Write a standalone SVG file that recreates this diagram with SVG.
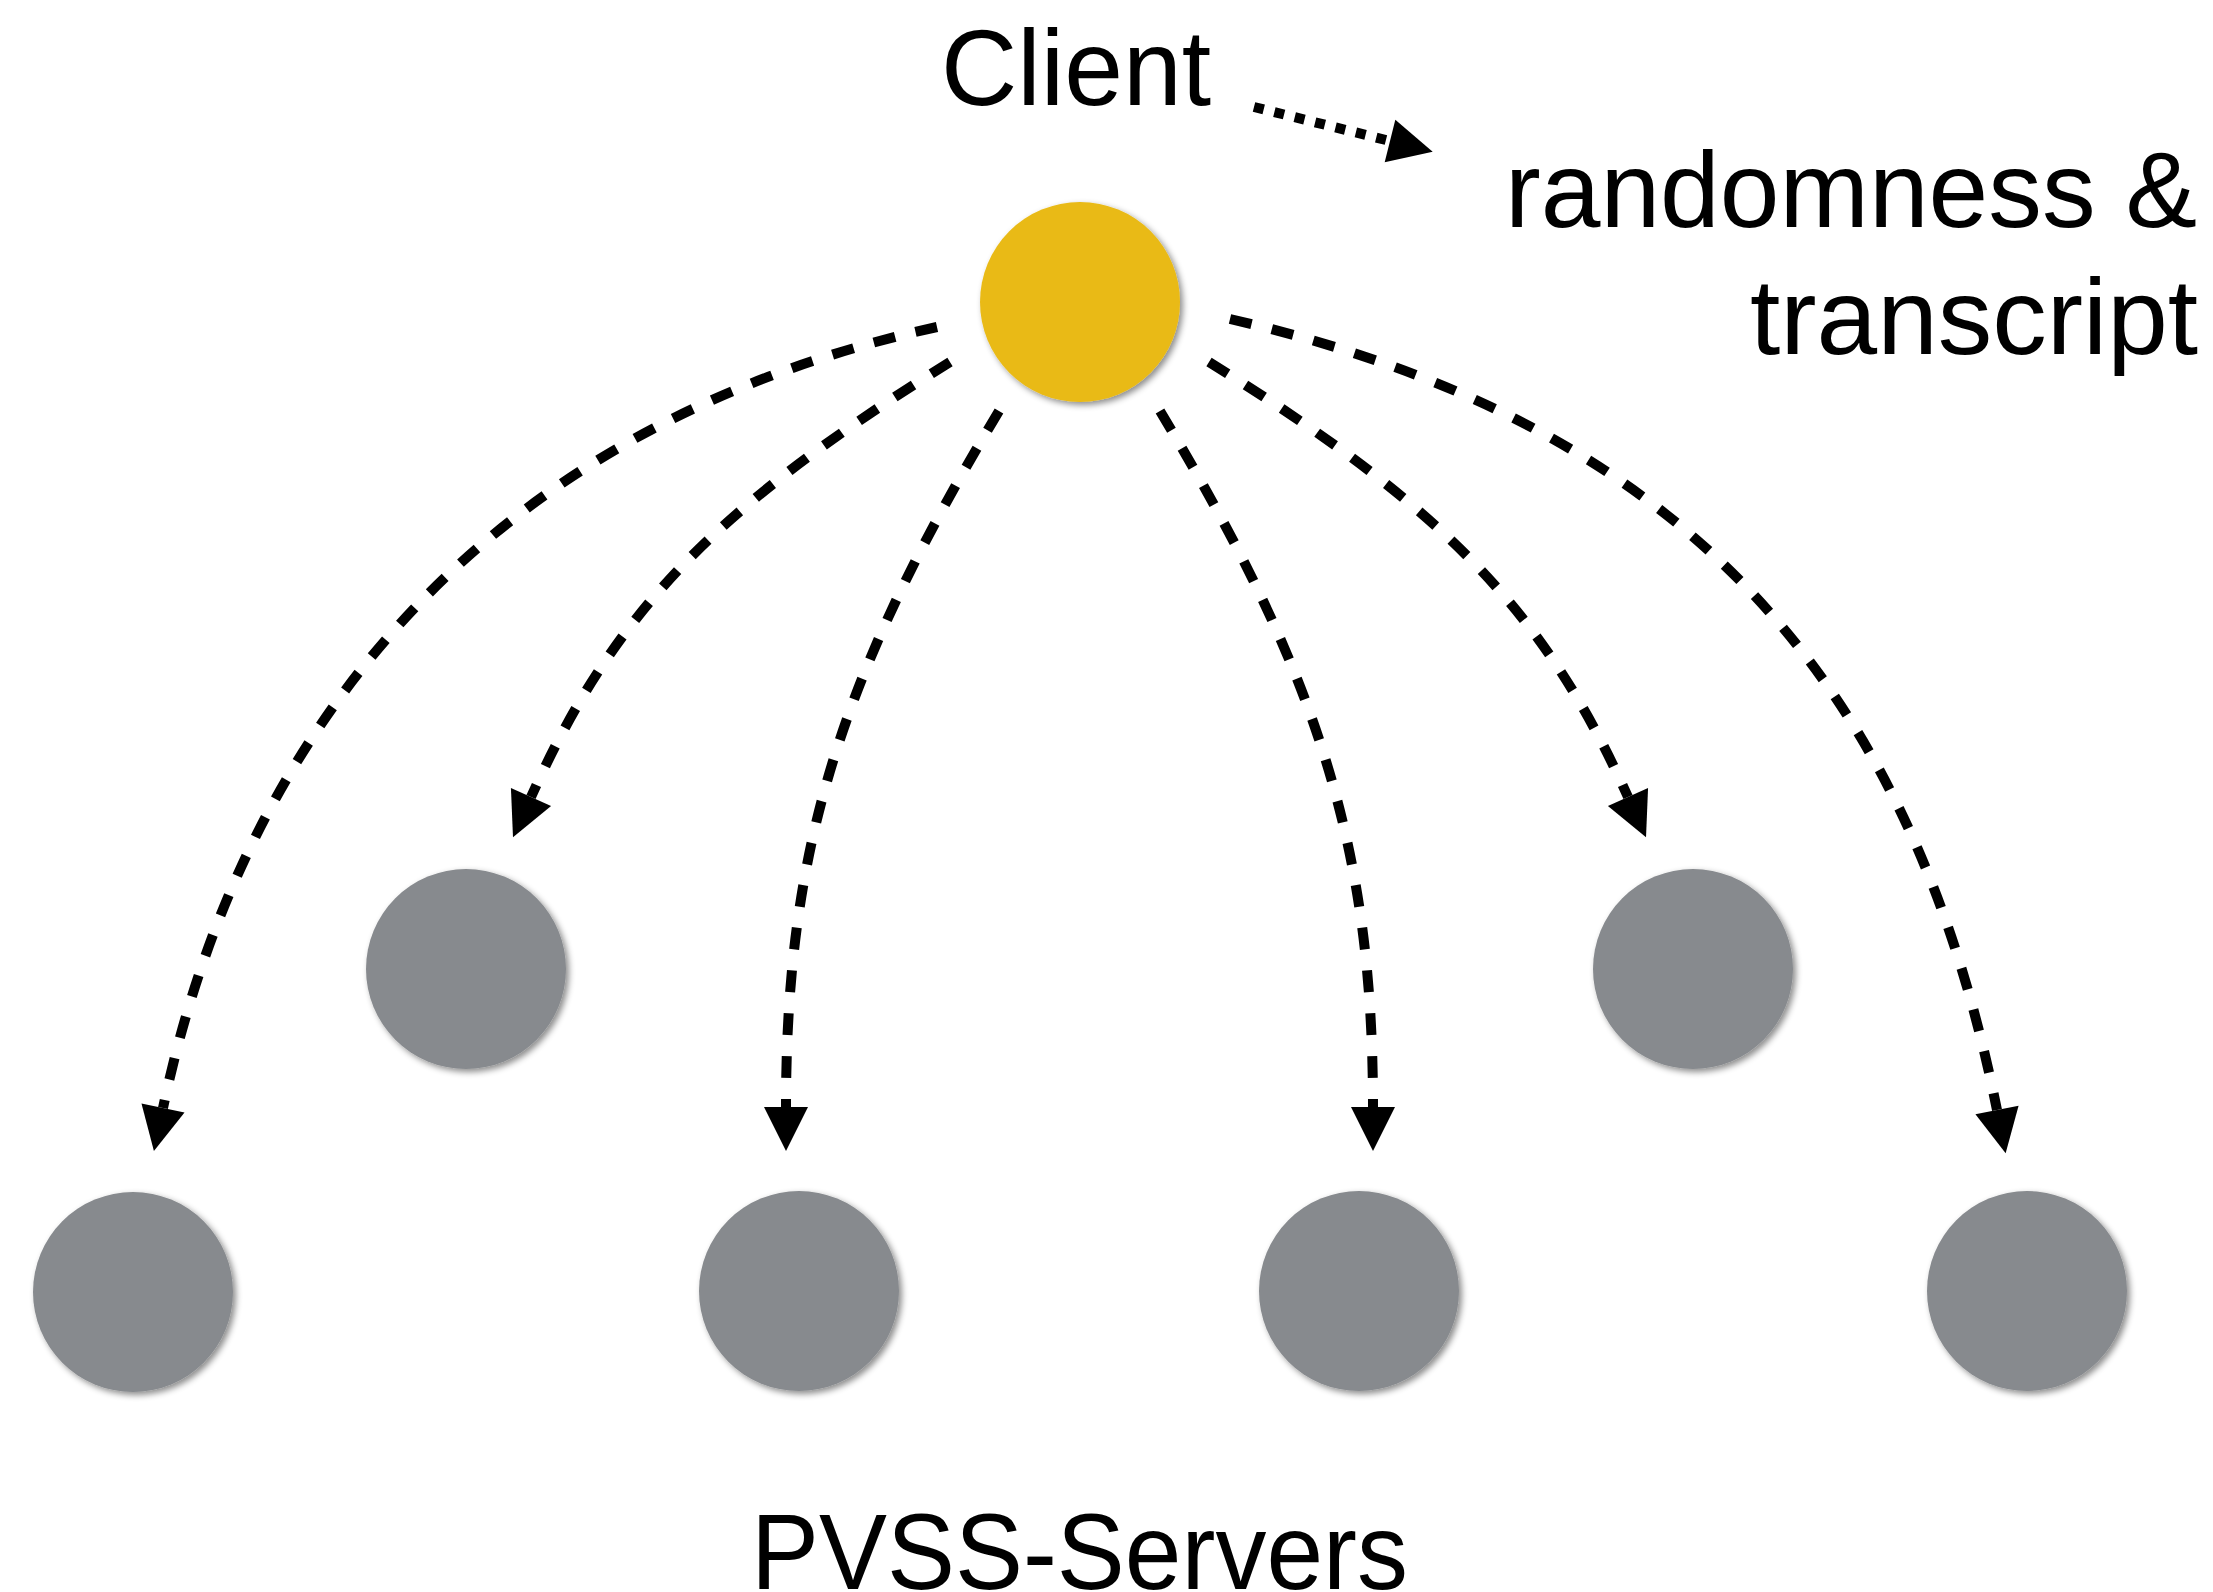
<svg xmlns="http://www.w3.org/2000/svg" width="2213" height="1592" viewBox="0 0 2213 1592">
<defs>
<style>
.lbl{font-family:"Liberation Sans",Arial,Helvetica,sans-serif;font-size:107px;fill:#000}
.client{fill:#E9BA19}
.server{fill:#878A8E}
.dash{fill:none;stroke:#000;stroke-width:10;stroke-dasharray:22 21;marker-end:url(#ah)}
.dot{fill:none;stroke:#000;stroke-width:10;stroke-dasharray:10 11;marker-end:url(#ah)}
</style>
<filter id="sh" x="-20%" y="-20%" width="140%" height="140%">
<feDropShadow dx="3" dy="3" stdDeviation="3" flood-color="#000" flood-opacity="0.45"/>
</filter>
<marker id="ah" markerUnits="userSpaceOnUse" markerWidth="46" markerHeight="46" viewBox="0 -23 46 46" refX="0" refY="0" orient="auto" overflow="visible">
<path d="M0,-22 L44,0 L0,22 Z" fill="#000" stroke="none"/>
</marker>
</defs>
<rect width="2213" height="1592" fill="#fff"/>
<g id="connectors">
<path class="dot" d="M1254,107 L1390,141"/>
<path class="dash" d="M937,327 C521,418 251,691 163,1108"/>
<path class="dash" d="M950,362 C714,508 614,612 531,797"/>
<path class="dash" d="M999,411 C839,677 786,851 786,1107"/>
<path class="dash" d="M1160,411 C1320,677 1373,851 1373,1107"/>
<path class="dash" d="M1209,362 C1445,508 1545,612 1628,797"/>
<path class="dash" d="M1230,319 C1670,420 1908,666 1997,1110"/>
</g>
<g id="client">
<circle class="client" cx="1080" cy="302" r="100" filter="url(#sh)"/>
<text class="lbl" x="941" y="105" textLength="270" lengthAdjust="spacingAndGlyphs">Client</text>
</g>
<g id="output-label">
<text class="lbl" x="1505" y="227" textLength="692" lengthAdjust="spacingAndGlyphs">randomness &amp;</text>
<text class="lbl" x="1750" y="354" textLength="448" lengthAdjust="spacingAndGlyphs">transcript</text>
</g>
<g id="server-1"><circle class="server" cx="133" cy="1292" r="100" filter="url(#sh)"/></g>
<g id="server-2"><circle class="server" cx="466" cy="969" r="100" filter="url(#sh)"/></g>
<g id="server-3"><circle class="server" cx="799" cy="1291" r="100" filter="url(#sh)"/></g>
<g id="server-4"><circle class="server" cx="1359" cy="1291" r="100" filter="url(#sh)"/></g>
<g id="server-5"><circle class="server" cx="1693" cy="969" r="100" filter="url(#sh)"/></g>
<g id="server-6"><circle class="server" cx="2027" cy="1291" r="100" filter="url(#sh)"/></g>
<g id="servers-label">
<text class="lbl" x="751" y="1589" textLength="657" lengthAdjust="spacingAndGlyphs">PVSS-Servers</text>
</g>
</svg>
